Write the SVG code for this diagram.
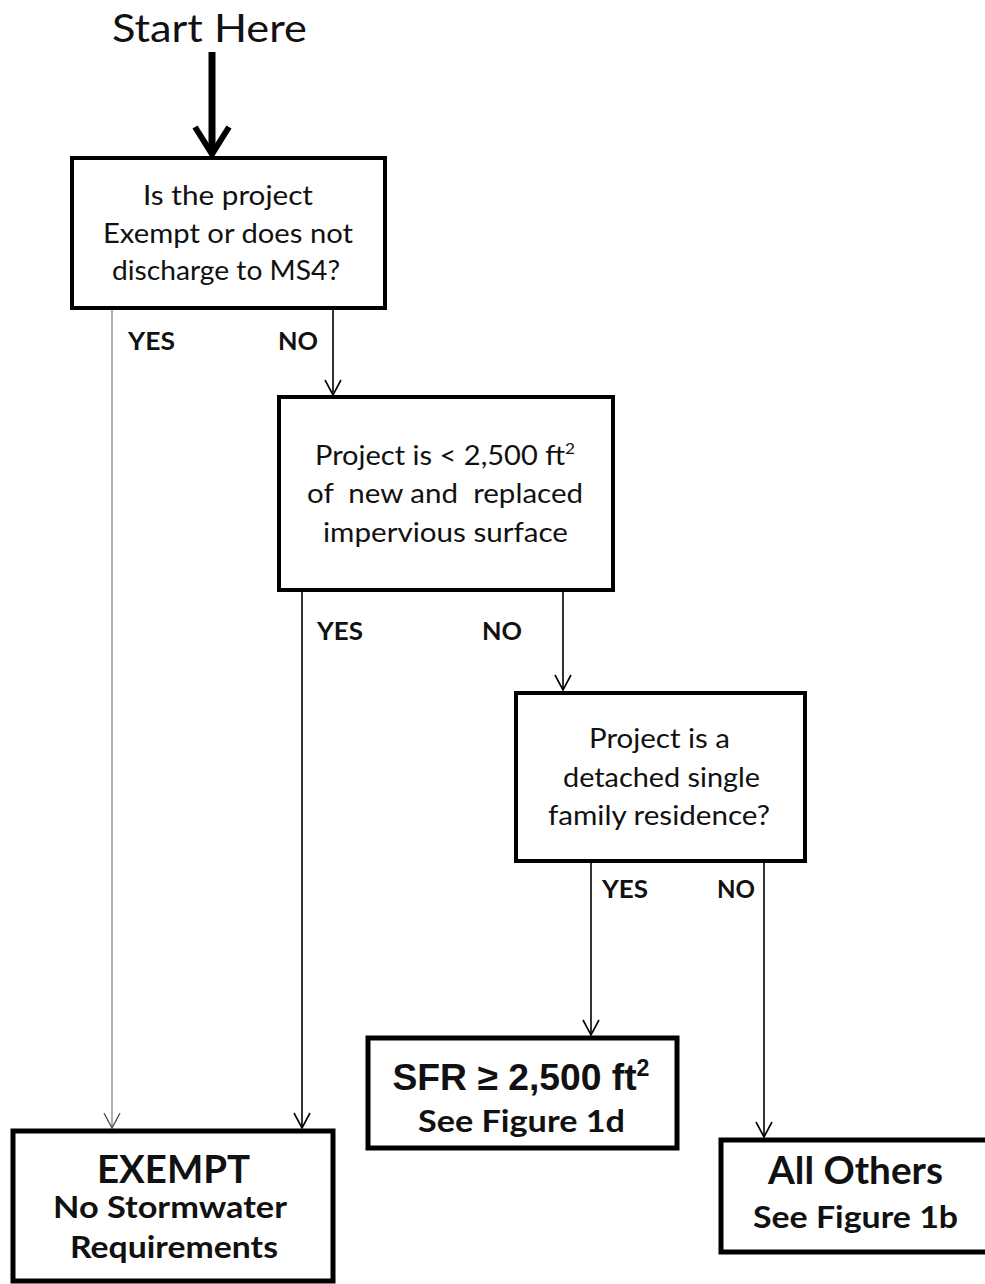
<svg xmlns="http://www.w3.org/2000/svg" width="985" height="1284" viewBox="0 0 985 1284">
<style>
  .bg { fill: #ffffff; }
  .dec { fill: #ffffff; stroke: #000000; stroke-width: 4; }
  .res { fill: #ffffff; stroke: #000000; stroke-width: 5; }
  .t { font-family: Lato, "Liberation Sans", sans-serif; fill: #111111; text-anchor: middle; }
  .q { font-size: 27px; }
  .lbl { font-family: Lato, "Liberation Sans", sans-serif; font-weight: bold; font-size: 25px; fill: #111111; }
  .big { font-weight: bold; font-size: 38px; }
  .sub { font-weight: bold; font-size: 30px; }
  .ar { font-family: "Liberation Sans", Arial, sans-serif; font-weight: bold; font-size: 37px; fill: #111111; text-anchor: middle; }
  .ln { stroke: #000000; stroke-width: 1.6; fill: none; }
  .lg { stroke: #7a7a7a; stroke-width: 1.2; fill: none; }
  .pre { white-space: pre; }
</style>
<defs>
  <marker id="arr" viewBox="-17 -9 18 18" refX="0" refY="0" markerWidth="18" markerHeight="18" markerUnits="userSpaceOnUse" orient="auto">
    <path d="M-15,-8 L0,0 L-15,8" fill="none" stroke="#000000" stroke-width="1.6"/>
  </marker>
  <marker id="arrg" viewBox="-17 -9 18 18" refX="0" refY="0" markerWidth="18" markerHeight="18" markerUnits="userSpaceOnUse" orient="auto">
    <path d="M-15,-8 L0,0 L-15,8" fill="none" stroke="#555555" stroke-width="1.4"/>
  </marker>
</defs>
<rect class="bg" x="0" y="0" width="985" height="1284"/>

<g id="start">
  <text class="t" x="209.5" y="42" font-size="39" textLength="195" lengthAdjust="spacingAndGlyphs">Start Here</text>
</g>

<g id="connectors">
  <line x1="212" y1="52" x2="212" y2="152" stroke="#000" stroke-width="7"/>
  <path d="M195,127 L212,154 L229,127" fill="none" stroke="#000" stroke-width="6" stroke-linejoin="miter"/>
  <line class="lg" x1="112" y1="310" x2="112" y2="1128" marker-end="url(#arrg)"/>
  <line class="ln" x1="333" y1="310" x2="333" y2="395" marker-end="url(#arr)"/>
  <line class="ln" x1="302" y1="592" x2="302" y2="1128" marker-end="url(#arr)"/>
  <line class="ln" x1="563" y1="592" x2="563" y2="690" marker-end="url(#arr)"/>
  <line class="ln" x1="591" y1="863" x2="591" y2="1035" marker-end="url(#arr)"/>
  <line class="ln" x1="764" y1="863" x2="764" y2="1137" marker-end="url(#arr)"/>
  <text class="lbl" x="128" y="350" textLength="47" lengthAdjust="spacingAndGlyphs">YES</text>
  <text class="lbl" x="278" y="350" textLength="40" lengthAdjust="spacingAndGlyphs">NO</text>
  <text class="lbl" x="317" y="640" textLength="46" lengthAdjust="spacingAndGlyphs">YES</text>
  <text class="lbl" x="482" y="640" textLength="40" lengthAdjust="spacingAndGlyphs">NO</text>
  <text class="lbl" x="602" y="898" textLength="46" lengthAdjust="spacingAndGlyphs">YES</text>
  <text class="lbl" x="717" y="898" textLength="38" lengthAdjust="spacingAndGlyphs">NO</text>
</g>

<g id="q1">
  <rect class="dec" x="72" y="158" width="313" height="150"/>
  <text class="t q" x="228" y="205" textLength="170" lengthAdjust="spacingAndGlyphs">Is the project</text>
  <text class="t q" x="228" y="243" textLength="250" lengthAdjust="spacingAndGlyphs">Exempt or does not</text>
  <text class="t q" x="226" y="280" textLength="228" lengthAdjust="spacingAndGlyphs">discharge to MS4?</text>
</g>

<g id="q2">
  <rect class="dec" x="279" y="397" width="334" height="193"/>
  <text class="t q" x="445" y="465" textLength="260" lengthAdjust="spacingAndGlyphs">Project is &lt; 2,500 ft<tspan dy="-11" font-size="16">2</tspan></text>
  <text class="t q pre" x="445" y="503" textLength="276" lengthAdjust="spacingAndGlyphs">of  new and  replaced</text>
  <text class="t q" x="445.5" y="542" textLength="245" lengthAdjust="spacingAndGlyphs">impervious surface</text>
</g>

<g id="q3">
  <rect class="dec" x="516" y="693" width="289" height="168"/>
  <text class="t q" x="659.5" y="748" textLength="141" lengthAdjust="spacingAndGlyphs">Project is a</text>
  <text class="t q" x="661.5" y="787" textLength="197" lengthAdjust="spacingAndGlyphs">detached single</text>
  <text class="t q" x="659" y="825" textLength="222" lengthAdjust="spacingAndGlyphs">family residence?</text>
</g>

<g id="sfr">
  <rect class="res" x="368" y="1038" width="309" height="110"/>
  <text class="ar" x="521" y="1090" textLength="257" lengthAdjust="spacingAndGlyphs">SFR ≥ 2,500 ft<tspan dy="-14" font-size="23">2</tspan></text>
  <text class="t sub" x="521.5" y="1132" textLength="207" lengthAdjust="spacingAndGlyphs">See Figure 1d</text>
</g>

<g id="exempt">
  <rect class="res" x="13" y="1131" width="320" height="150"/>
  <text class="t big" x="173.5" y="1183" textLength="153" lengthAdjust="spacingAndGlyphs">EXEMPT</text>
  <text class="t sub" x="170" y="1218" textLength="234" lengthAdjust="spacingAndGlyphs">No Stormwater</text>
  <text class="t sub" x="174" y="1258" textLength="208" lengthAdjust="spacingAndGlyphs">Requirements</text>
</g>

<g id="others">
  <rect class="res" x="721" y="1140" width="280" height="112"/>
  <text class="t big" x="855.5" y="1184" font-size="35" textLength="175" lengthAdjust="spacingAndGlyphs">All Others</text>
  <text class="t sub" x="855.5" y="1228" textLength="205" lengthAdjust="spacingAndGlyphs">See Figure 1b</text>
</g>
</svg>
